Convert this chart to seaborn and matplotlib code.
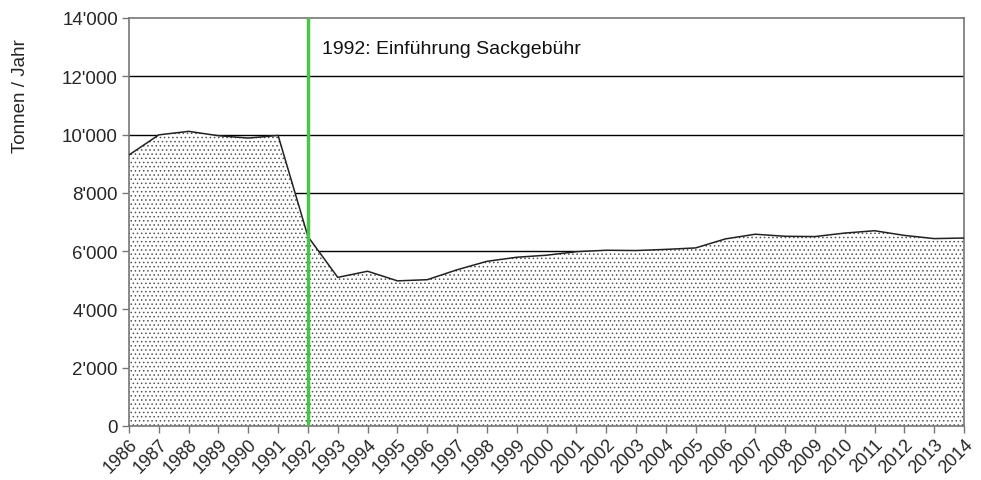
import numpy as np
import pandas as pd
import seaborn as sns
import matplotlib.pyplot as plt
from matplotlib.ticker import FuncFormatter

years = list(range(1986, 2015))
tonnen = [9300, 9990, 10110, 9960, 9880, 9970, 6500, 5100, 5310, 4980,
          5020, 5360, 5650, 5790, 5860, 5980, 6030, 6020, 6060, 6110,
          6420, 6580, 6510, 6500, 6620, 6700, 6540, 6430, 6450]
event_year = 1992
event_text = "1992: Einführung Sackgebühr"

df = pd.DataFrame({"Jahr": years, "Tonnen": tonnen})

sns.set_style("white")
plt.rcParams['font.family'] = ['Liberation Sans', 'DejaVu Sans']
plt.rcParams['hatch.linewidth'] = 0.6

fig = plt.figure(figsize=(9.81, 4.81), dpi=100)
ax = fig.add_axes([0.1315, 0.1123, 0.8512, 0.8482])

# horizontal grid lines behind the area
for v in range(2000, 14000, 2000):
    ax.axhline(v, color="black", lw=1, zorder=1)

ax.fill_between(df["Jahr"], df["Tonnen"], 0, facecolor="white",
                edgecolor="#555555", hatch="....", linewidth=0, zorder=2)
sns.lineplot(data=df, x="Jahr", y="Tonnen", color="#222222", lw=1.1,
             ax=ax, zorder=3)

ax.axvline(event_year, color="#4cc44c", lw=2.5, zorder=4)
ax.text(event_year + 0.47, 12950, event_text, fontsize=14,
        va="center", ha="left", color="#111111")

ax.set_xlim(years[0], years[-1])
ax.set_ylim(0, 14000)
ax.set_xticks(years)
ax.set_xticklabels([str(y) for y in years], rotation=45, ha="right",
                   rotation_mode="anchor", fontsize=13)
ax.set_yticks(range(0, 14001, 2000))
ax.yaxis.set_major_formatter(FuncFormatter(lambda v, p: f"{int(v):,}".replace(",", "'")))
ax.tick_params(axis="y", labelsize=13.5, length=5, width=1, color="#777777", direction="out", left=True, pad=3)
ax.tick_params(axis="x", length=5, width=1, color="#777777", direction="out", bottom=True, pad=2)
ax.set_xlabel("")
ax.set_ylabel("Tonnen / Jahr", fontsize=13.5)
ax.yaxis.set_label_coords(-0.12, 0.81)

for s in ax.spines.values():
    s.set_color("#777777")
    s.set_linewidth(1.2)

fig.savefig("out.png", dpi=100)
